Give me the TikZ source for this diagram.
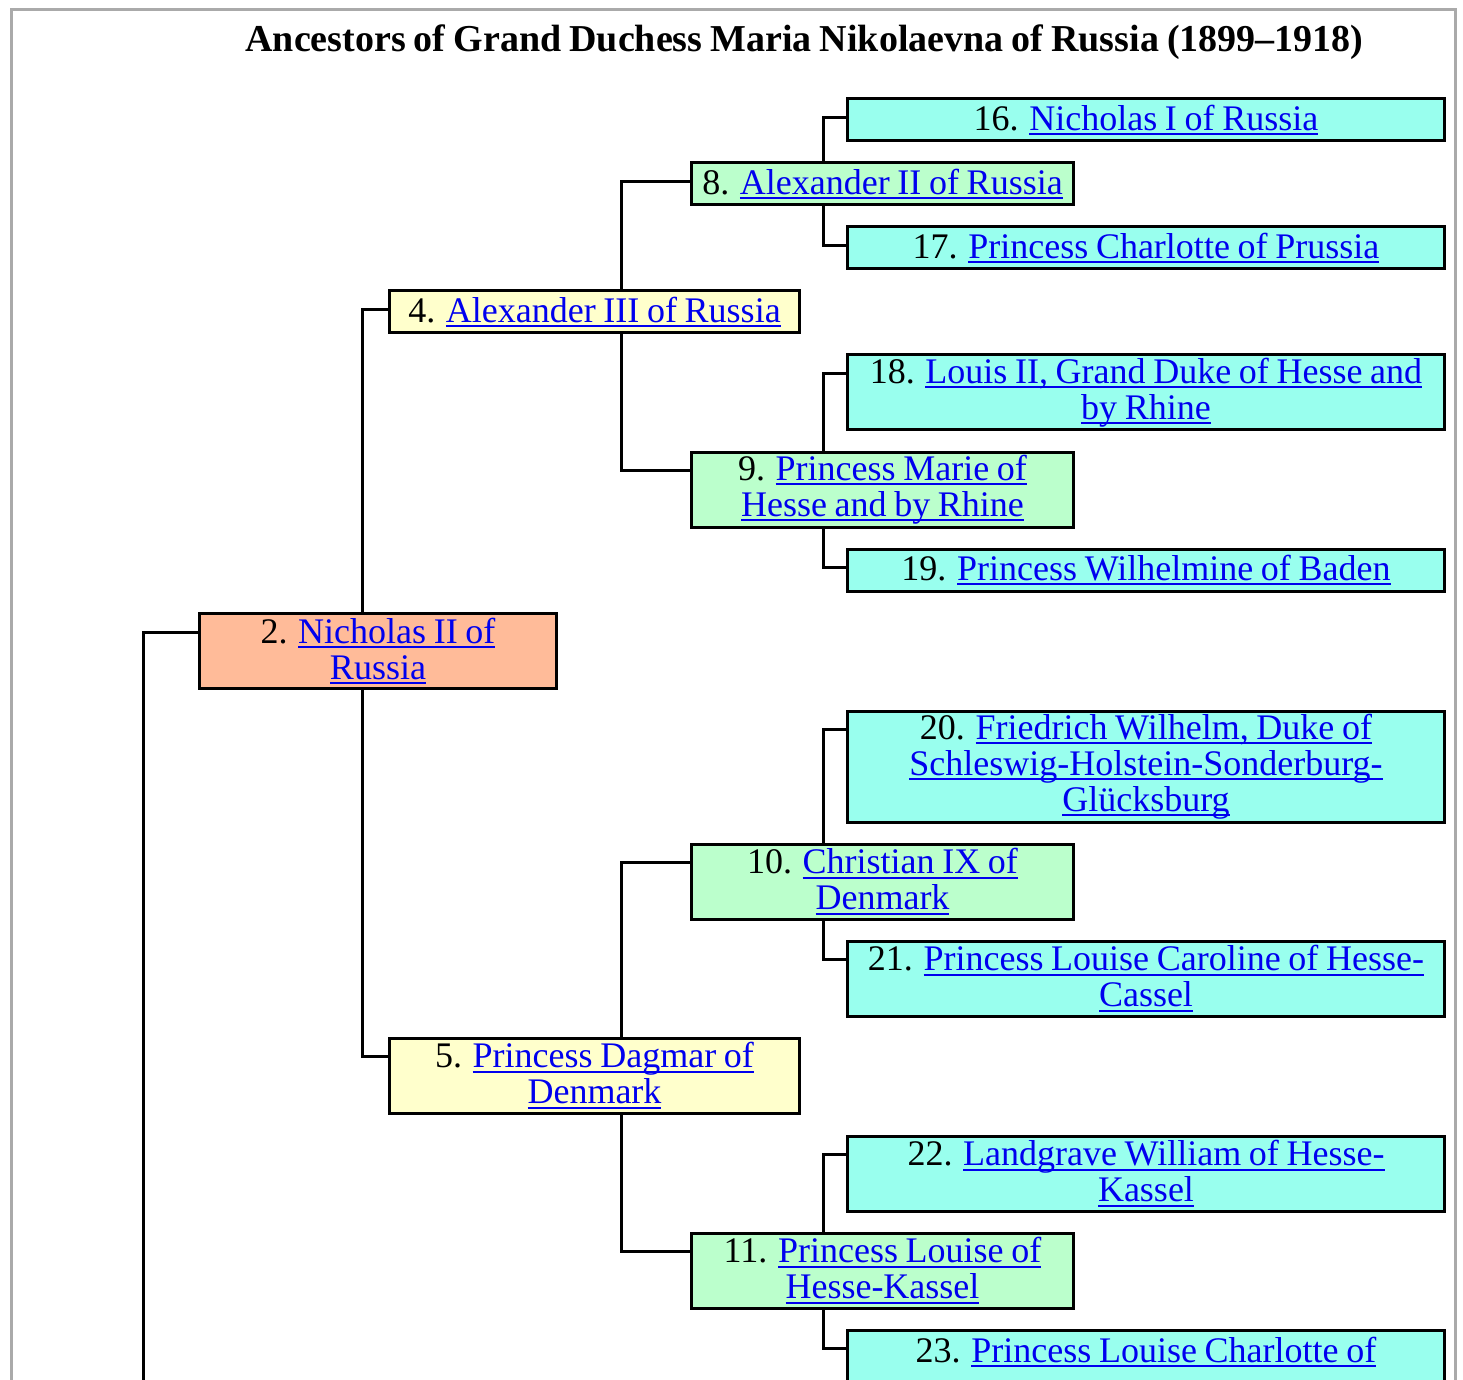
\documentclass[tikz,border=0pt]{standalone}
\usepackage{fontspec}
\setmainfont{Liberation Serif}[WordSpace=0.85]
\usetikzlibrary{backgrounds}
\definecolor{gentwo}{HTML}{FFBB99}
\definecolor{genthree}{HTML}{FFFFCC}
\definecolor{genfour}{HTML}{BBFFCC}
\definecolor{genfive}{HTML}{99FFEE}
\definecolor{wikiblue}{HTML}{0000EE}
\definecolor{framegray}{HTML}{AAAAAA}
\newcommand{\wlink}[1]{\textcolor{wikiblue}{\setbox0\hbox{#1}\rlap{\rule[-2.5pt]{\wd0}{0.9pt}}\box0}}
\begin{document}
\begin{tikzpicture}[x=0.5pt,y=-0.5pt,
  person/.style={draw,line width=1.5pt,inner sep=0pt,align=center,minimum height=21pt,font=\fontsize{18}{18}\selectfont},
  two/.style={minimum height=37.5pt},
  three/.style={minimum height=55.5pt},
  g2/.style={person,fill=gentwo,minimum width=178.5pt},
  g3/.style={person,fill=genthree,minimum width=205pt},
  g4/.style={person,fill=genfour,minimum width=191pt},
  g5/.style={person,fill=genfive,minimum width=298.5pt},
  tie/.style={line width=1.5pt}]
\useasboundingbox (0,0) rectangle (1463,1380);
\clip (0,0) rectangle (1463,1380);
\draw[framegray,line width=1.5pt] (11,1380) -- (11,10) -- (1455,10) -- (1455,1380);
\node[font=\bfseries\fontsize{19}{20}\selectfont] (title) at (804.5,42) {Ancestors of Grand Duchess Maria Nikolaevna of Russia (1899--1918)};
\node[g5] (n16) at (1146,120) {16. \wlink{Nicholas I of Russia}};
\node[g4] (n8) at (882.5,184) {8. \wlink{Alexander II of Russia}};
\node[g5] (n17) at (1146,248) {17. \wlink{Princess Charlotte of Prussia}};
\node[g3] (n4) at (594.5,312) {4. \wlink{Alexander III of Russia}};
\node[g5,two] (n18) at (1146,392.5) {18. \wlink{Louis II, Grand Duke of Hesse and}\\ \wlink{by Rhine}};
\node[g4,two] (n9) at (882.5,489.5) {9. \wlink{Princess Marie of}\\ \wlink{Hesse and by Rhine}};
\node[g5] (n19) at (1146,570) {19. \wlink{Princess Wilhelmine of Baden}};
\node[g2,two] (n2) at (378,651) {2. \wlink{Nicholas II of}\\ \wlink{Russia}};
\node[g5,three] (n20) at (1146,766.5) {20. \wlink{Friedrich Wilhelm, Duke of}\\ \wlink{Schleswig-Holstein-Sonderburg-}\\ \wlink{Glücksburg}};
\node[g4,two] (n10) at (882.5,881.5) {10. \wlink{Christian IX of}\\ \wlink{Denmark}};
\node[g5,two] (n21) at (1146,978.5) {21. \wlink{Princess Louise Caroline of Hesse-}\\ \wlink{Cassel}};
\node[g3,two] (n5) at (594.5,1075.5) {5. \wlink{Princess Dagmar of}\\ \wlink{Denmark}};
\node[g5,two] (n22) at (1146,1173.5) {22. \wlink{Landgrave William of Hesse-}\\ \wlink{Kassel}};
\node[g4,two] (n11) at (882.5,1270.5) {11. \wlink{Princess Louise of}\\ \wlink{Hesse-Kassel}};
\node[g5,two] (n23) at (1146,1367.5) {23. \wlink{Princess Louise Charlotte of}\\ \mbox{}};
\coordinate (j2) at (362,651);
\coordinate (j4) at (621,312);
\coordinate (j5) at (621,1075);
\coordinate (j8) at (823,184);
\coordinate (j9) at (823,489);
\coordinate (j10) at (823,881);
\coordinate (j11) at (823,1270);
\coordinate (end1) at (143,1380);
\begin{scope}[on background layer]
\draw[tie] ([yshift=-10pt]n2.north west) -| (end1);
\draw[tie] ([yshift=-10pt]n4.north west) -| (j2) |- ([yshift=-10pt]n5.north west);
\draw[tie] ([yshift=-10pt]n8.north west) -| (j4) |- ([yshift=-10pt]n9.north west);
\draw[tie] ([yshift=-10pt]n10.north west) -| (j5) |- ([yshift=-10pt]n11.north west);
\draw[tie] ([yshift=-10pt]n16.north west) -| (j8) |- ([yshift=-10pt]n17.north west);
\draw[tie] ([yshift=-10pt]n18.north west) -| (j9) |- ([yshift=-10pt]n19.north west);
\draw[tie] ([yshift=-10pt]n20.north west) -| (j10) |- ([yshift=-10pt]n21.north west);
\draw[tie] ([yshift=-10pt]n22.north west) -| (j11) |- ([yshift=-10pt]n23.north west);
\end{scope}
\end{tikzpicture}
\end{document}
